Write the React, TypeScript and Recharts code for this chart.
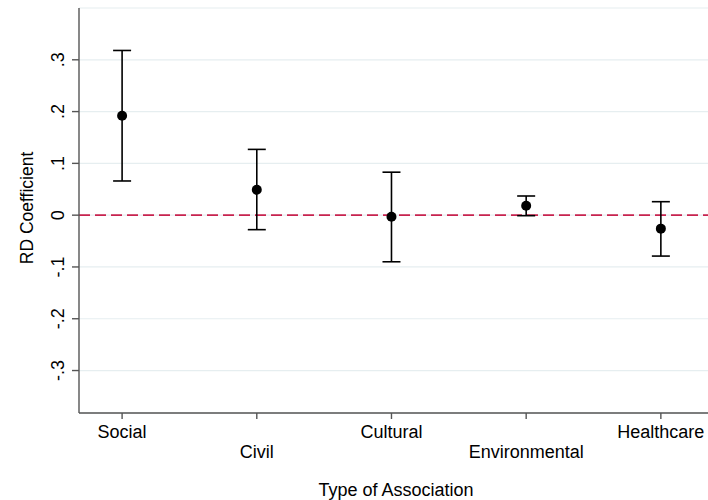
import {
  ComposedChart,
  Scatter,
  ErrorBar,
  XAxis,
  YAxis,
  CartesianGrid,
  ReferenceLine,
} from 'recharts'

document.body.style.margin = '0'

const categories = ['Social', 'Civil', 'Cultural', 'Environmental', 'Healthcare']
const coef = [0.192, 0.049, -0.003, 0.018, -0.026]
const ciLow = [0.066, -0.028, -0.09, -0.001, -0.079]
const ciHigh = [0.318, 0.127, 0.083, 0.037, 0.026]
const yTicks = [-0.3, -0.2, -0.1, 0, 0.1, 0.2, 0.3]

const FONT = '"Liberation Sans", Arial, sans-serif'
const AXIS = '#555555'

const data = categories.map((name, i) => ({
  x: i + 1,
  name,
  coef: coef[i],
  err: [coef[i] - ciLow[i], ciHigh[i] - coef[i]],
}))

// Stata style: drop the leading zero
const fmt = (v: number) => (v === 0 ? '0' : v.toFixed(1).replace(/^(-?)0\./, '$1.'))

const XTick = (props: any) => {
  const { x, y, payload } = props
  const idx = payload.value - 1
  return (
    <text
      x={x}
      y={y}
      dy={idx % 2 === 0 ? 16.5 : 36.5}
      textAnchor="middle"
      fontSize={18}
      fontFamily={FONT}
      fill="#000"
    >
      {categories[idx]}
    </text>
  )
}

const YTick = (props: any) => {
  const { y, payload } = props
  const bx = 64
  return (
    <text
      x={bx}
      y={y}
      transform={`rotate(-90, ${bx}, ${y})`}
      textAnchor="middle"
      fontSize={18}
      fontFamily={FONT}
      fill="#000"
    >
      {fmt(payload.value)}
    </text>
  )
}

const Dot = (props: any) => <circle cx={props.cx} cy={props.cy} r={5} fill="#000" />

export default function App() {
  return (
    <div style={{ width: 708, height: 500, background: '#fff' }}>
      <ComposedChart
        width={708}
        height={500}
        data={data}
        margin={{ top: 8, right: 0, left: 0, bottom: 0 }}
      >
        <CartesianGrid vertical={false} stroke="#e6eef0" strokeWidth={1.2} />
        <XAxis
          type="number"
          dataKey="x"
          domain={[0.68, 5.35]}
          ticks={[1, 2, 3, 4, 5]}
          allowDataOverflow
          interval={0}
          tick={<XTick />}
          tickSize={6}
          tickMargin={2}
          height={87}
          axisLine={{ stroke: AXIS, strokeWidth: 1.4 }}
          tickLine={{ stroke: AXIS, strokeWidth: 1.4 }}
        />
        <YAxis
          type="number"
          domain={[-0.382, 0.4]}
          ticks={yTicks}
          allowDataOverflow
          interval={0}
          width={79}
          tick={<YTick />}
          tickSize={7}
          axisLine={{ stroke: AXIS, strokeWidth: 1.4 }}
          tickLine={{ stroke: AXIS, strokeWidth: 1.4 }}
          label={{
            content: () => (
              <text
                x={33}
                y={208}
                transform="rotate(-90, 33, 208)"
                textAnchor="middle"
                fontSize={17.5}
                fontFamily={FONT}
                fill="#000"
              >
                RD Coefficient
              </text>
            ),
          }}
        />
        <ReferenceLine y={0} stroke="#c8234f" strokeWidth={1.6} strokeDasharray="11 5" />
        <Scatter dataKey="coef" shape={<Dot />} isAnimationActive={false}>
          <ErrorBar dataKey="err" direction="y" width={9} stroke="#000" strokeWidth={1.6} />
        </Scatter>
        <text
          x={396}
          y={496}
          textAnchor="middle"
          fontSize={18}
          fontFamily={FONT}
          fill="#000"
        >
          Type of Association
        </text>
      </ComposedChart>
    </div>
  )
}
